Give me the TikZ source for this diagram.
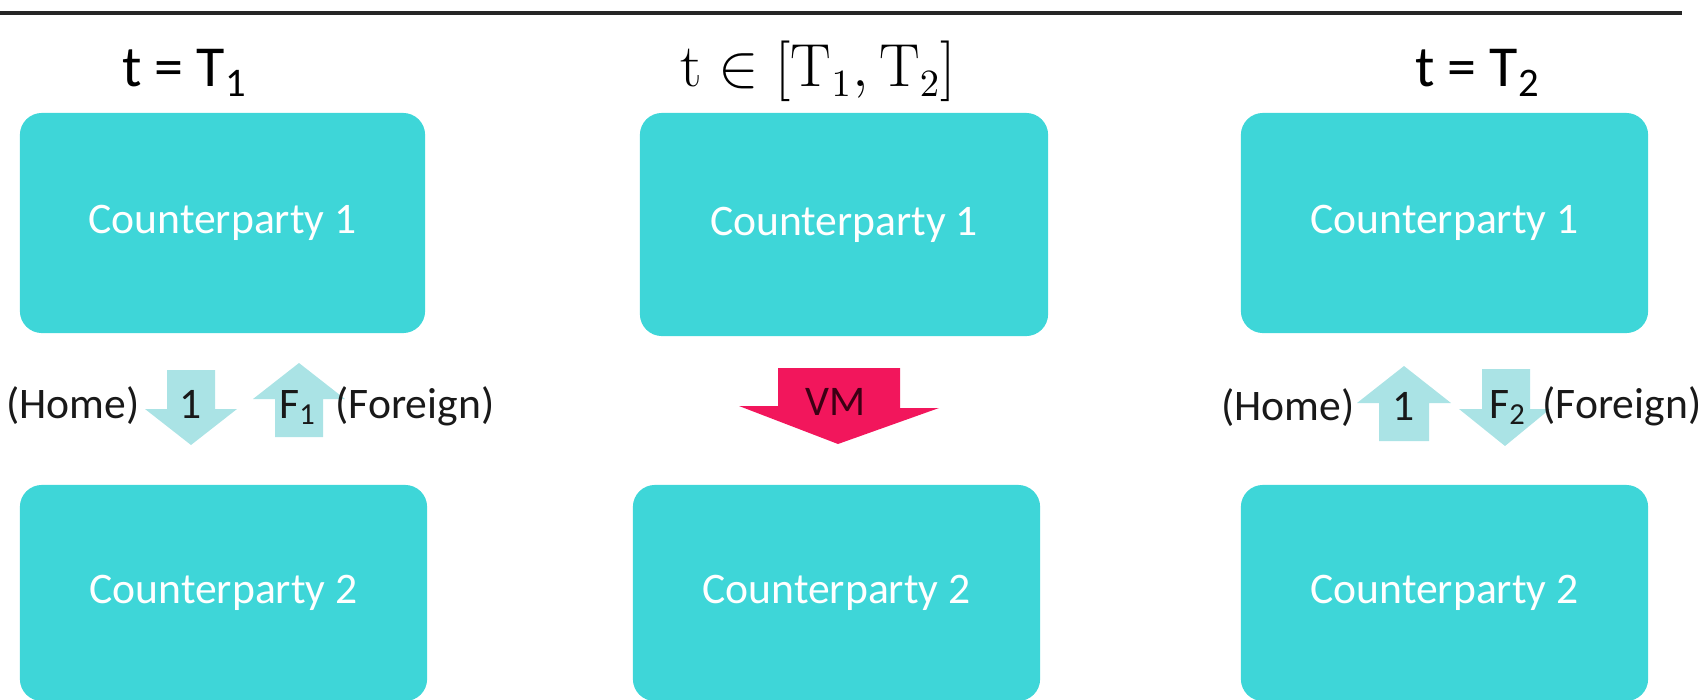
\documentclass[tikz,border=0pt]{standalone}
\usepackage[no-math]{fontspec}
\setmainfont{Carlito}
\usetikzlibrary{positioning}

\definecolor{partycyan}{RGB}{62,214,216}
\definecolor{flowcyan}{RGB}{170,227,229}
\definecolor{vmred}{RGB}{242,22,92}
\definecolor{vmtext}{RGB}{60,0,20}

\tikzset{
  party/.style={fill=partycyan, rounded corners=0.22cm, text=white, inner sep=0pt,
    font=\fontsize{12.4}{14}\selectfont},
  title/.style={anchor=base, font=\fontsize{16.5}{19}\selectfont},
  lbl/.style={anchor=base, text=black!90, font=\fontsize{12.4}{15}\selectfont},
}

\begin{document}
\begin{tikzpicture}[x=0.01cm, y=-0.01cm]
\clip (0,0) rectangle (1702,700);
\draw[line width=0.9pt, black!85] (0,13) -- (1682,13);

% t = T1
\node[title] (ta) at (185,87) {t = T\textsubscript{1}};
\node[party, minimum width=4.05cm, minimum height=2.2cm] (a1) at (222.5,223) {Counterparty 1};
\node[party, minimum width=4.07cm, minimum height=2.16cm] (a2) at (223.5,593) {Counterparty 2};
\fill[flowcyan] (167,370) -- (215,370) -- (215,409) -- (237,409) -- (191,445) -- (145,409) -- (167,409) -- cycle;
\fill[flowcyan] (275,437) -- (323,437) -- (323,399) -- (345,399) -- (299,363) -- (253,399) -- (275,399) -- cycle;
\node[lbl] (ha) at (73,418) {(Home)};
\node[lbl] (oa) at (191,418) {1};
\node[lbl] (fa) at (298,418) {F\textsubscript{1}};
\node[lbl] (ga) at (415,418) {(Foreign)};

% t in [T1,T2]
\node[anchor=base, font=\fontsize{16}{19}\selectfont] (tb) at (818,87)
  {$\mathrm{t} \in [\mathrm{T}_1, \mathrm{T}_2]$};
\node[party, minimum width=4.08cm, minimum height=2.23cm] (b1) at (844,224.5) {Counterparty 1};
\node[party, minimum width=4.07cm, minimum height=2.16cm] (b2) at (836.5,593) {Counterparty 2};
\fill[vmred] (778,368) -- (900,368) -- (900,408) -- (939,408) -- (838,444) -- (739,406) -- (778,406) -- cycle;
\node[anchor=base, text=vmtext, font=\fontsize{12}{15}\selectfont] (vm) at (836,415) {VM};

% t = T2
\node[title] (tc) at (1478,87) {t = T\textsubscript{2}};
\node[party, minimum width=4.07cm, minimum height=2.2cm] (c1) at (1444.5,223) {Counterparty 1};
\node[party, minimum width=4.07cm, minimum height=2.16cm] (c2) at (1444.5,593) {Counterparty 2};
\fill[flowcyan] (1379,441) -- (1429,441) -- (1429,403) -- (1451,403) -- (1404,366) -- (1357,403) -- (1379,403) -- cycle;
\fill[flowcyan] (1482,369) -- (1530,369) -- (1530,409) -- (1550,409) -- (1505,446) -- (1459,409) -- (1482,409) -- cycle;
\node[lbl] (hc) at (1288,420) {(Home)};
\node[lbl] (oc) at (1404,420) {1};
\node[lbl] (fc) at (1508,418) {F\textsubscript{2}};
\node[lbl] (gc) at (1622,418) {(Foreign)};
\end{tikzpicture}
\end{document}
